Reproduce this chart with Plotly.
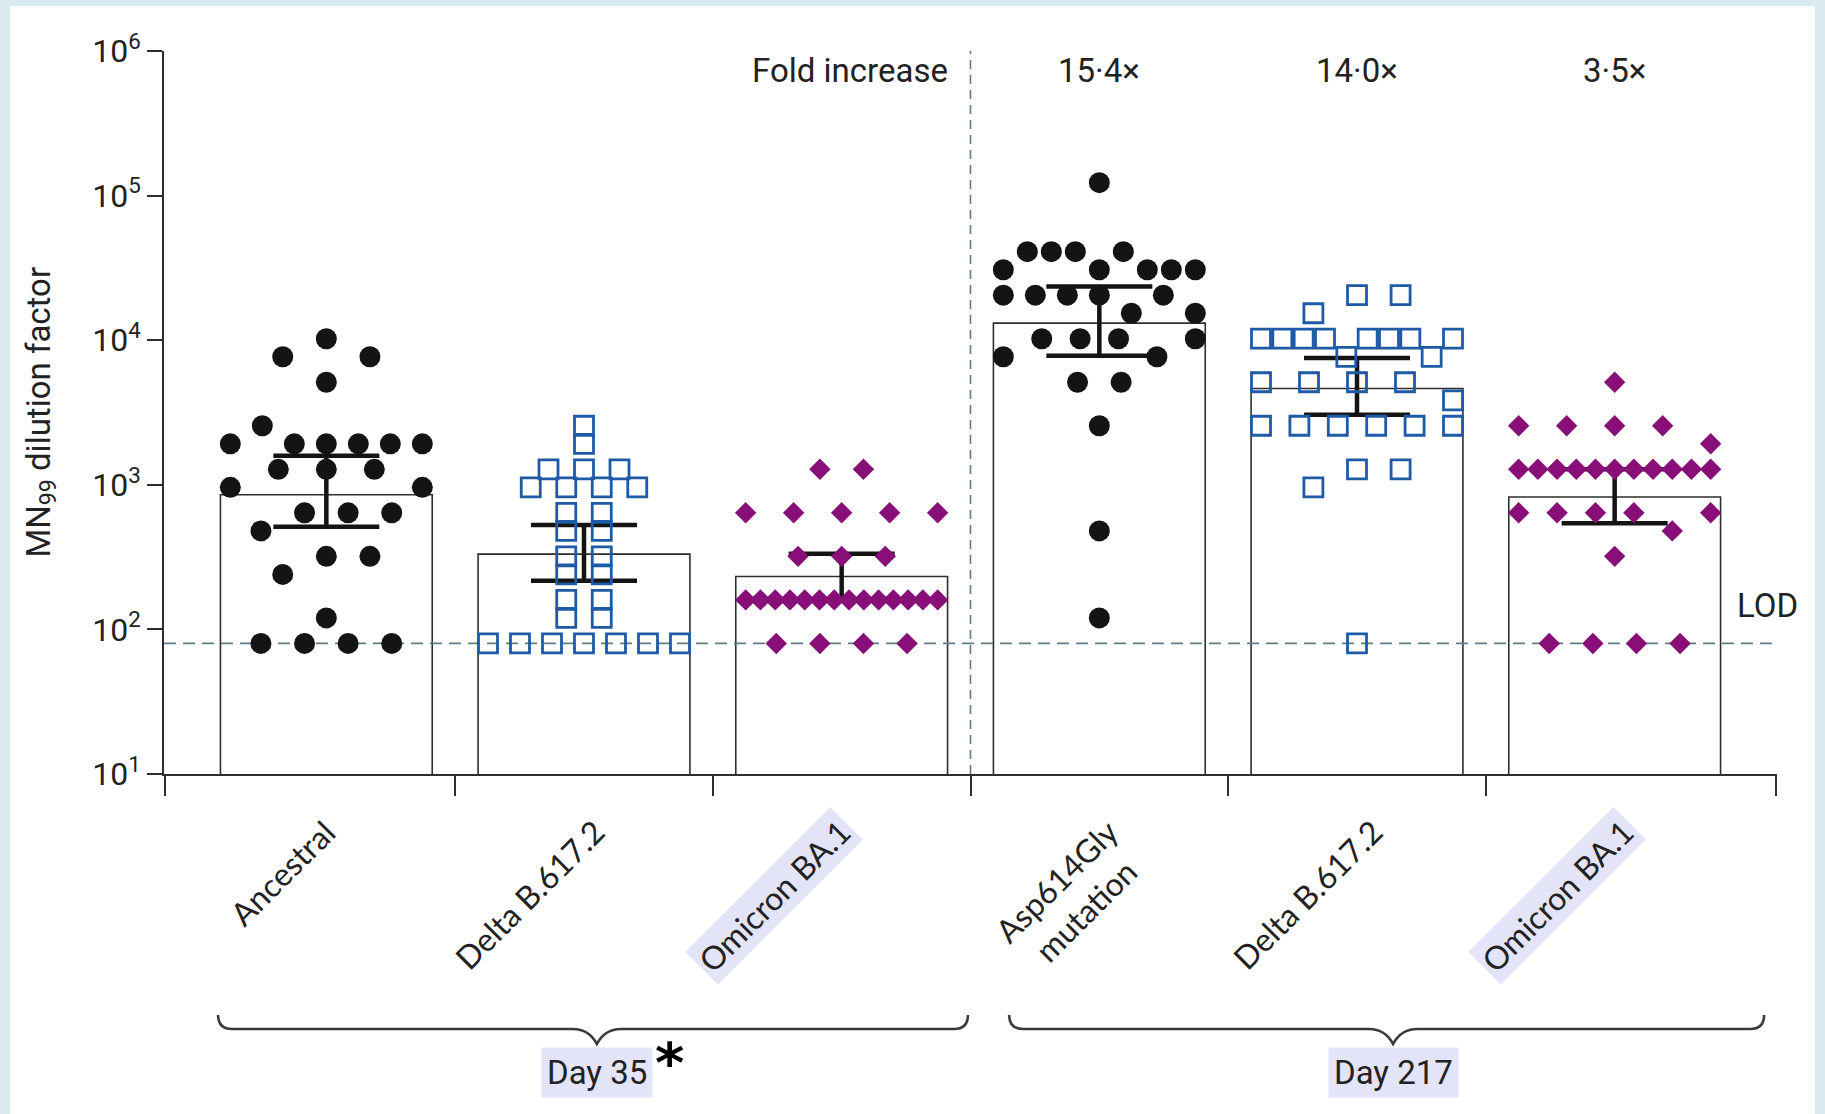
import numpy as np
import plotly.graph_objects as go

# ---------------------------------------------------------------- data ----
categories = ["Ancestral", "Delta B.617.2", "Omicron BA.1",
              "Asp614Gly<br>mutation", "Delta B.617.2", "Omicron BA.1"]
visit_labels = ["Day 35", "Day 217"]

# MN99 titres, one value per participant (28 per panel), listed by subject
ancestral_day35 = [7680, 10240, 7680, 5120,
                   1920, 2560, 1920, 1920, 1920, 1920, 1920,
                   960, 1280, 1280, 1280, 960,
                   480, 640, 640, 640,
                   240, 320, 320, 120,
                   80, 80, 80, 80]
delta_day35 = [2560, 1920,
               1280, 1280, 1280, 960, 960, 960, 960,
               640, 640, 480, 480, 320, 320, 240, 240,
               160, 160, 120, 120,
               80, 80, 80, 80, 80, 80, 80]
omicron_day35 = [1280, 1280, 640, 640, 640, 640, 640, 320, 320, 320,
                 160, 160, 160, 160, 160, 160, 160, 160, 160, 160, 160, 160, 160, 160,
                 80, 80, 80, 80]
asp614gly_day217 = [122880,
                    30720, 40960, 40960, 40960, 30720, 40960, 30720, 30720, 30720,
                    20480, 20480, 20480, 20480, 15360, 20480, 15360,
                    7680, 10240, 10240, 10240, 7680, 10240,
                    5120, 5120, 2560, 480, 120]
delta_day217 = [15360, 20480, 20480,
                10240, 10240, 10240, 10240, 7680, 10240, 10240, 10240, 7680, 10240,
                5120, 5120, 5120, 5120, 3840,
                2560, 2560, 2560, 2560, 2560, 2560,
                960, 1280, 1280, 80]
omicron_day217 = [5120, 2560, 2560, 2560, 2560, 1920,
                  1280, 1280, 1280, 1280, 1280, 1280, 1280, 1280, 1280, 1280, 1280,
                  640, 640, 640, 640, 480, 640, 320,
                  80, 80, 80, 80]

# 95% CI of the geometric mean titre
ci_lower = [512, 217, 160, 7800, 3050, 542]
ci_upper = [1590, 528, 333, 23500, 7520, 1280]
lod_titre = 80

y_tick_vals = [10, 100, 1000, 10000, 100000, 1000000]
y_tick_text = ["10<sup>1</sup>", "10<sup>2</sup>", "10<sup>3</sup>",
               "10<sup>4</sup>", "10<sup>5</sup>", "10<sup>6</sup>"]

# -------------------------------------------------------------- layout ----
W, H = 1825, 1114
ML, MR, MT, MB = 164, 48, 51, 340
X_RANGE = [-0.63, 5.63]
Y_RANGE = [1, 6]
PLOT_W = W - ML - MR
PLOT_H = H - MT - MB
PX_PER_UNIT = PLOT_W / (X_RANGE[1] - X_RANGE[0])
PX_PER_DECADE = PLOT_H / (Y_RANGE[1] - Y_RANGE[0])

COND = "Roboto, Liberation Sans, sans-serif"
HUM = "Lato, Open Sans, sans-serif"
AXIS = "#2e2e2e"
DASH = "#5e7c83"
FRAME = "#d9ebf0"
HILITE = "#e4e4f8"
BLACK = "#141414"
TEXT = "#222222"
BLUE = "#1f5aa6"
PURPLE = "#880f78"


def px_x(px):
    return (px - ML) / PLOT_W


def px_y(px):
    return (H - MB - px) / PLOT_H


def swarm_offsets(values, bin_px, step_px, spread_px=192):
    """Prism-style scatter: nearby titres share a row and are spread evenly."""
    logs = np.log10(values)
    order = sorted(range(len(values)), key=lambda i: -logs[i])
    rows = []
    for i in order:
        if rows and (logs[rows[-1][0]] - logs[i]) * PX_PER_DECADE < bin_px:
            rows[-1].append(i)
        else:
            rows.append([i])
    off = np.zeros(len(values))
    for row in rows:
        row = sorted(row)
        k = len(row)
        if k > 1:
            step = spread_px / (k - 1) if k >= 5 else step_px
            for j, i in enumerate(row):
                off[i] = (j - (k - 1) / 2) * step
    return off / PX_PER_UNIT


groups = [
    dict(values=ancestral_day35, symbol="circle", color=BLACK, size=21, lw=0, bin=20, step=43.6),
    dict(values=delta_day35, symbol="square-open", color=BLUE, size=19, lw=2.8, bin=10, step=35.5),
    dict(values=omicron_day35, symbol="diamond", color=PURPLE, size=16.5, lw=0, bin=20, step=43.6),
    dict(values=asp614gly_day217, symbol="circle", color=BLACK, size=21, lw=0, bin=20, step=43.6),
    dict(values=delta_day217, symbol="square-open", color=BLUE, size=19, lw=2.8, bin=20, step=43.6),
    dict(values=omicron_day217, symbol="diamond", color=PURPLE, size=16.5, lw=0, bin=20, step=43.6),
]

gmt = [10 ** np.mean(np.log10(g["values"])) for g in groups]
fold = [gmt[k + 3] / gmt[k] for k in range(3)]

fig = go.Figure()

# geometric mean titre bars with 95% CI
fig.add_trace(go.Bar(
    x=list(range(6)), y=gmt, width=0.822,
    marker=dict(color="white", line=dict(color=AXIS, width=1.6)),
    error_y=dict(type="data", symmetric=False,
                 array=[u - g for u, g in zip(ci_upper, gmt)],
                 arrayminus=[g - l for g, l in zip(gmt, ci_lower)],
                 color=BLACK, thickness=4.5, width=53),
    hoverinfo="skip",
))

# limit of detection and visit separator
fig.add_trace(go.Scatter(x=X_RANGE, y=[lod_titre, lod_titre], mode="lines",
                         line=dict(color=DASH, width=1.8, dash="12px,7px"),
                         hoverinfo="skip"))
fig.add_trace(go.Scatter(x=[2.5, 2.5], y=[10, 10 ** Y_RANGE[1]], mode="lines",
                         line=dict(color=DASH, width=1.6, dash="9px,6px"),
                         hoverinfo="skip"))

# individual titres
for i, g in enumerate(groups):
    off = swarm_offsets(g["values"], g["bin"], g["step"])
    fig.add_trace(go.Scatter(
        x=i + off, y=g["values"], mode="markers",
        marker=dict(symbol=g["symbol"], size=g["size"], color=g["color"],
                    line=dict(color=g["color"], width=g["lw"])),
        hoverinfo="skip",
    ))

annotations = []

# fold increase header
annotations.append(dict(text="Fold increase", xref="paper", yref="paper",
                        x=px_x(950), y=px_y(70), xanchor="right", yanchor="middle",
                        showarrow=False, font=dict(family=COND, size=33, color=TEXT)))
for k, f in enumerate(fold):
    annotations.append(dict(text=f"{f:.1f}".replace(".", "·") + "×",
                            xref="x", yref="paper", x=k + 3, y=px_y(70),
                            xanchor="center", yanchor="middle", showarrow=False,
                            font=dict(family=COND, size=33, color=TEXT)))

# LOD label
annotations.append(dict(text="LOD", xref="paper", yref="paper",
                        x=px_x(1735), y=px_y(605), xanchor="left", yanchor="middle",
                        showarrow=False, font=dict(family=COND, size=33, color=TEXT)))

# y-axis title
annotations.append(dict(text="MN<sub>99</sub> dilution factor", xref="paper", yref="paper",
                        x=px_x(40), y=0.5, xanchor="center", yanchor="middle",
                        textangle=-90, showarrow=False,
                        font=dict(family=COND, size=33, color=TEXT)))

# category labels
label_shift = [22, 33, 22, 62, 38, 32]
for i, name in enumerate(categories):
    hl = "Omicron" in name
    annotations.append(dict(text=name, xref="x", yref="paper", x=i, y=px_y(806),
                            xanchor="right", yanchor="top", textangle=-45,
                            xshift=label_shift[i], showarrow=False, align="center",
                            bgcolor=HILITE if hl else "rgba(0,0,0,0)", borderpad=3,
                            font=dict(family=HUM, size=32, color=TEXT)))

# visit braces and labels
visit_spans = [(-0.42, 2.49, 1.05), (2.65, 5.58, 4.14)]
shapes = [dict(type="rect", xref="paper", yref="paper", layer="below",
               x0=px_x(10), x1=px_x(W - 10), y0=px_y(H), y1=px_y(6),
               fillcolor="white", line=dict(width=0))]
yt, ym, ytip = px_y(1015), px_y(1029), px_y(1044)
for (a, b, m), lab in zip(visit_spans, visit_labels):
    r = 14 / PX_PER_UNIT
    r2 = 24 / PX_PER_UNIT
    c = 8 / PX_PER_UNIT
    path = (f"M {a},{yt} Q {a},{ym} {a + r},{ym} L {m - r2},{ym} "
            f"Q {m - c},{ym} {m},{ytip} Q {m + c},{ym} {m + r2},{ym} "
            f"L {b - r},{ym} Q {b},{ym} {b},{yt}")
    shapes.append(dict(type="path", xref="x", yref="paper", path=path,
                       line=dict(color="#3a3a3a", width=2.6)))
    annotations.append(dict(text=lab, xref="x", yref="paper", x=m, y=px_y(1072),
                            xanchor="center", yanchor="middle", showarrow=False,
                            bgcolor=HILITE, borderpad=5,
                            font=dict(family=COND, size=33, color=TEXT)))

annotations.append(dict(text="<b>*</b>", xref="x", yref="paper", x=1.33, y=px_y(1062),
                        xanchor="center", yanchor="middle", showarrow=False,
                        font=dict(family="DejaVu Sans", size=56, color="black")))

fig.update_layout(
    width=W, height=H, margin=dict(l=ML, r=MR, t=MT, b=MB, pad=0),
    paper_bgcolor=FRAME, plot_bgcolor="white", showlegend=False,
    xaxis=dict(range=X_RANGE, showgrid=False, zeroline=False, showline=True,
               linecolor=AXIS, linewidth=1.6, ticks="outside", ticklen=20,
               tickwidth=1.6, tickcolor=AXIS, showticklabels=False,
               tickvals=[-0.628, 0.5, 1.5, 2.5, 3.5, 4.5, 5.628]),
    yaxis=dict(type="log", range=Y_RANGE, showgrid=False, zeroline=False,
               showline=True, linecolor=AXIS, linewidth=1.6, ticks="outside",
               ticklen=15, tickwidth=1.6, tickcolor=AXIS,
               tickvals=y_tick_vals, ticktext=y_tick_text,
               tickfont=dict(family=COND, size=32, color=TEXT)),
    annotations=annotations, shapes=shapes,
)

fig.write_html("out.html")
